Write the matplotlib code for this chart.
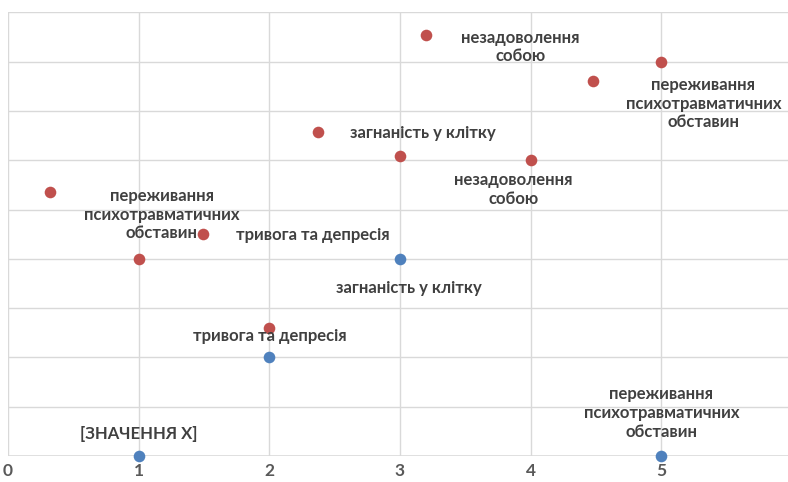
import matplotlib
matplotlib.use("Agg")
import matplotlib.pyplot as plt

# ---- data ----
blue_x = [1, 2, 3, 5]
blue_y = [0.0, 2.0, 4.0, 0.0]
blue_labels = ["[ЗНАЧЕННЯ X]", "тривога та депресія", "загнаність у клітку",
               "переживання\nпсихотравматичних\nобставин"]

red_x = [0.32, 1.0, 1.49, 2.0, 2.37, 3.0, 3.2, 4.0, 4.48, 5.0]
red_y = [5.36, 3.99, 4.50, 2.59, 6.57, 6.09, 8.54, 6.00, 7.60, 8.00]
red_labels = ["переживання\nпсихотравматичних\nобставин", "", "тривога та депресія", "",
              "загнаність у клітку", "", "незадоволення\nсобою", "незадоволення\nсобою",
              "", "переживання\nпсихотравматичних\nобставин"]

x_ticks = [0, 1, 2, 3, 4, 5]

# ---- label offsets in pixels (style/positioning) ----
blue_off = [(0, 22), (1, 21), (9, -29), (0, 43)]
red_off = [(112, -23), None, (110, -1), None, (105, -1), None, (94, -12), (-17, -29), None, (42, -42)]

plt.rcParams['font.family'] = ['Lato', 'Open Sans', 'DejaVu Sans']

W, H = 788, 482
fig = plt.figure(figsize=(W / 100, H / 100), dpi=100)
left, right, top, bottom = 8, 788, 12.3, 456
ax = fig.add_axes([left / W, (H - bottom) / H, (right - left) / W, (bottom - top) / H])

ax.set_xlim(0, 5.97)
ax.set_ylim(0, 9)
ax.set_xticks(x_ticks)
ax.set_yticks(range(0, 10))
ax.set_yticklabels([])
ax.grid(True, color='#d9d9d9', linewidth=1.0)
ax.set_axisbelow(True)
for s in ax.spines.values():
    s.set_visible(False)
ax.tick_params(axis='both', length=0)
ax.tick_params(axis='x', labelsize=12.5, labelcolor='#595959', pad=5)
for lbl in ax.get_xticklabels():
    lbl.set_fontweight('bold')
    lbl.set_horizontalalignment('center')
ax.axhline(0, color='#d9d9d9', linewidth=1.8, zorder=1)

ax.scatter(red_x, red_y, s=70, color='#C0504D', zorder=3, clip_on=False, linewidths=0)
ax.scatter(blue_x, blue_y, s=70, color='#4F81BD', zorder=3, clip_on=False, linewidths=0)

def put(xs, ys, labels, offs):
    for x, y, t, o in zip(xs, ys, labels, offs):
        if not t or o is None:
            continue
        ax.annotate(t, (x, y), xytext=o, textcoords='offset pixels',
                    ha='center', va='center', fontsize=12, fontweight='bold',
                    color='#404040', linespacing=1.2, annotation_clip=False)

put(red_x, red_y, red_labels, red_off)
put(blue_x, blue_y, blue_labels, blue_off)

fig.savefig('out.png', dpi=100)
